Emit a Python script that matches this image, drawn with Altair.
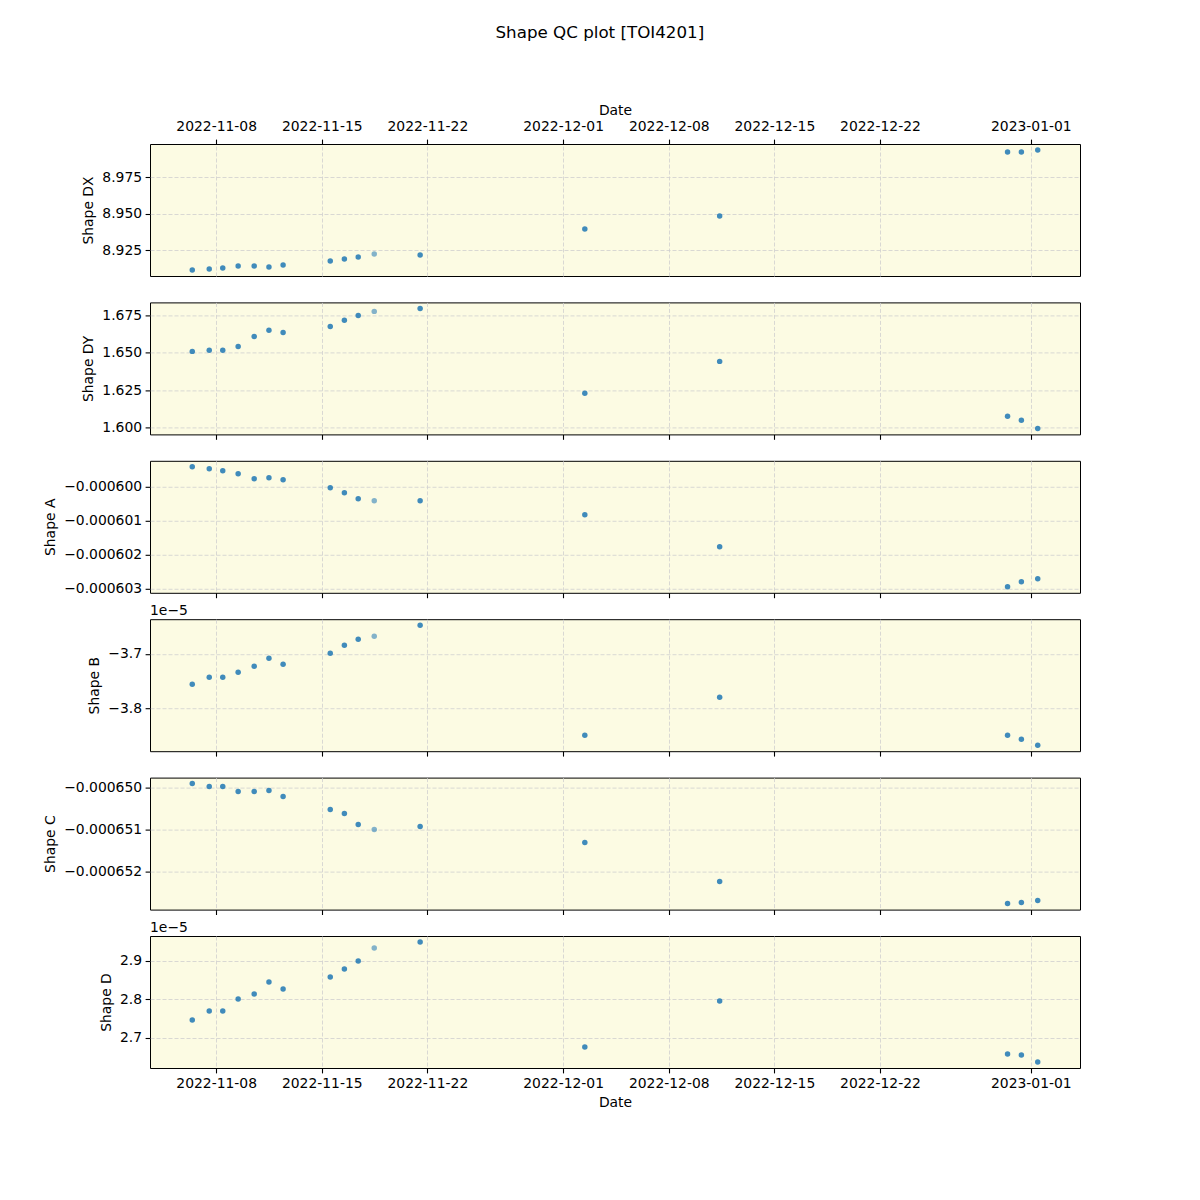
import altair as alt
import pandas as pd

# ---- data ----
obs_dates = [
    "2022-11-06T10:00:00Z", "2022-11-07T13:00:00Z", "2022-11-08T10:30:00Z",
    "2022-11-09T11:00:00Z", "2022-11-10T12:30:00Z", "2022-11-11T12:00:00Z",
    "2022-11-12T10:30:00Z", "2022-11-15T13:30:00Z", "2022-11-16T12:00:00Z",
    "2022-11-17T10:00:00Z", "2022-11-18T11:30:00Z", "2022-11-21T12:30:00Z",
    "2022-12-02T10:30:00Z", "2022-12-11T09:00:00Z", "2022-12-30T11:00:00Z",
    "2022-12-31T09:00:00Z", "2023-01-01T11:00:00Z",
]
point_alpha = [0.85] * 10 + [0.55] + [0.85] * 6

shape_dx = [8.9113, 8.9120, 8.9127, 8.9140, 8.9140, 8.9134, 8.9147, 8.9175, 8.9188,
            8.9202, 8.9223, 8.9216, 8.9394, 8.9483, 8.9921, 8.9921, 8.9935]
shape_dy = [1.6509, 1.6516, 1.6516, 1.6542, 1.6609, 1.6650, 1.6636, 1.6676, 1.6717,
            1.6750, 1.6777, 1.6797, 1.6228, 1.6442, 1.6074, 1.6047, 1.5993]
shape_a = [-5.99412e-4, -5.99471e-4, -5.99529e-4, -5.99618e-4, -5.99765e-4, -5.99735e-4,
           -5.99794e-4, -6.00029e-4, -6.00176e-4, -6.00353e-4, -6.00412e-4, -6.00412e-4,
           -6.00824e-4, -6.01765e-4, -6.02941e-4, -6.02794e-4, -6.02706e-4]
shape_b = [-3.7558e-5, -3.7429e-5, -3.7429e-5, -3.7337e-5, -3.7227e-5, -3.7080e-5,
           -3.7190e-5, -3.6988e-5, -3.6840e-5, -3.6730e-5, -3.6675e-5, -3.6472e-5,
           -3.8497e-5, -3.7798e-5, -3.8497e-5, -3.8571e-5, -3.8681e-5]
shape_c = [-6.49905e-4, -6.49976e-4, -6.49976e-4, -6.50095e-4, -6.50095e-4, -6.50071e-4,
           -6.50214e-4, -6.50524e-4, -6.50619e-4, -6.50881e-4, -6.51000e-4, -6.50929e-4,
           -6.51310e-4, -6.52238e-4, -6.52762e-4, -6.52738e-4, -6.52690e-4]
shape_d = [2.7455e-5, 2.7688e-5, 2.7688e-5, 2.8000e-5, 2.8130e-5, 2.8442e-5, 2.8260e-5,
           2.8571e-5, 2.8779e-5, 2.8987e-5, 2.9325e-5, 2.9481e-5, 2.6753e-5, 2.7948e-5,
           2.6571e-5, 2.6545e-5, 2.6364e-5]

x_tick_dates = ["2022-11-08", "2022-11-15", "2022-11-22", "2022-12-01",
                "2022-12-08", "2022-12-15", "2022-12-22", "2023-01-01"]

panel_titles = ["Shape DX", "Shape DY", "Shape A", "Shape B", "Shape C", "Shape D"]
panel_series = [shape_dx, shape_dy, shape_a, shape_b, shape_c, shape_d]
panel_ticks = [
    [8.925, 8.950, 8.975],
    [1.600, 1.625, 1.650, 1.675],
    [-0.000603, -0.000602, -0.000601, -0.000600],
    [-3.8e-5, -3.7e-5],
    [-0.000652, -0.000651, -0.000650],
    [2.7e-5, 2.8e-5, 2.9e-5],
]
panel_label_expr = [
    "format(datum.value, '.3f')",
    "format(datum.value, '.3f')",
    "format(datum.value, '.6f')",
    "format(datum.value * 1e5, '.1f')",
    "format(datum.value, '.6f')",
    "format(datum.value * 1e5, '.1f')",
]
panel_offset_text = [None, None, None, "1e\u22125", None, "1e\u22125"]

# ---- build ----
ts = pd.to_datetime(obs_dates, utc=True)
ms = [int(t.value // 10**6) for t in ts]
x_lo, x_hi = min(ms), max(ms)
x_pad = 0.05 * (x_hi - x_lo)
x_domain = [x_lo - x_pad, x_hi + x_pad]
x_tick_ms = [int(pd.Timestamp(d, tz="UTC").value // 10**6) for d in x_tick_dates]

FONT = "DejaVu Sans"
FS = 13.9
DATE_EXPR = "utcFormat(datum.value, '%Y-%m-%d')"

charts = []
n = len(panel_titles)
for i in range(n):
    vals = panel_series[i]
    df = pd.DataFrame({"date": obs_dates, "value": vals, "alpha": point_alpha})
    lo, hi = min(vals), max(vals)
    pad = 0.05 * (hi - lo)
    if i == 0:
        x_axis = alt.Axis(orient="top", values=x_tick_ms, labelExpr=DATE_EXPR,
                          title="Date", labelFlush=False, labelOverlap=False,
                          labelPadding=6, titlePadding=2)
    elif i == n - 1:
        x_axis = alt.Axis(orient="bottom", values=x_tick_ms, labelExpr=DATE_EXPR,
                          title="Date", labelFlush=False, labelOverlap=False,
                          labelPadding=4, titlePadding=5)
    else:
        x_axis = alt.Axis(orient="bottom", values=x_tick_ms, labels=False, title=None)
    pts = alt.Chart(df).mark_circle(size=30, color="#1f77b4").encode(
        x=alt.X("date:T", axis=x_axis,
                scale=alt.Scale(type="utc", domain=x_domain, nice=False)),
        y=alt.Y("value:Q", title=panel_titles[i],
                axis=alt.Axis(values=panel_ticks[i], labelExpr=panel_label_expr[i], titlePadding=6),
                scale=alt.Scale(domain=[lo - pad, hi + pad], zero=False, nice=False)),
        opacity=alt.Opacity("alpha:Q", scale=None, legend=None),
    )
    if panel_offset_text[i]:
        txt = alt.Chart(pd.DataFrame({"t": [panel_offset_text[i]]})).mark_text(
            align="left", baseline="alphabetic", font=FONT, fontSize=FS, color="black"
        ).encode(x=alt.value(0), y=alt.value(-4), text="t:N")
        panel_chart = alt.layer(pts, txt)
    else:
        panel_chart = pts
    charts.append(panel_chart.properties(width=930, height=132))

chart = alt.vconcat(*charts, spacing=26.4, bounds="flush").properties(
    title=alt.TitleParams("Shape QC plot [TOI4201]", font=FONT, fontSize=16.7,
                          fontWeight="normal", color="black", anchor="middle",
                          offset=61, dx=38),
    padding={"left": 35, "top": 16, "right": 20, "bottom": 20},
    background="white",
).configure_view(
    stroke="black", strokeWidth=1, fill="#fcfbe3"
).configure_axis(
    labelFont=FONT, labelFontSize=FS, labelColor="black",
    titleFont=FONT, titleFontSize=FS, titleFontWeight="normal", titleColor="black",
    tickColor="black", tickSize=4.9, tickWidth=1.1, labelPadding=3.5,
    domain=False, grid=True, gridColor="#cfcfcf", gridOpacity=1,
    gridDash=[4, 2], gridWidth=0.8,
)

chart.save("out.html", embed_options={"renderer": "svg", "actions": False})
